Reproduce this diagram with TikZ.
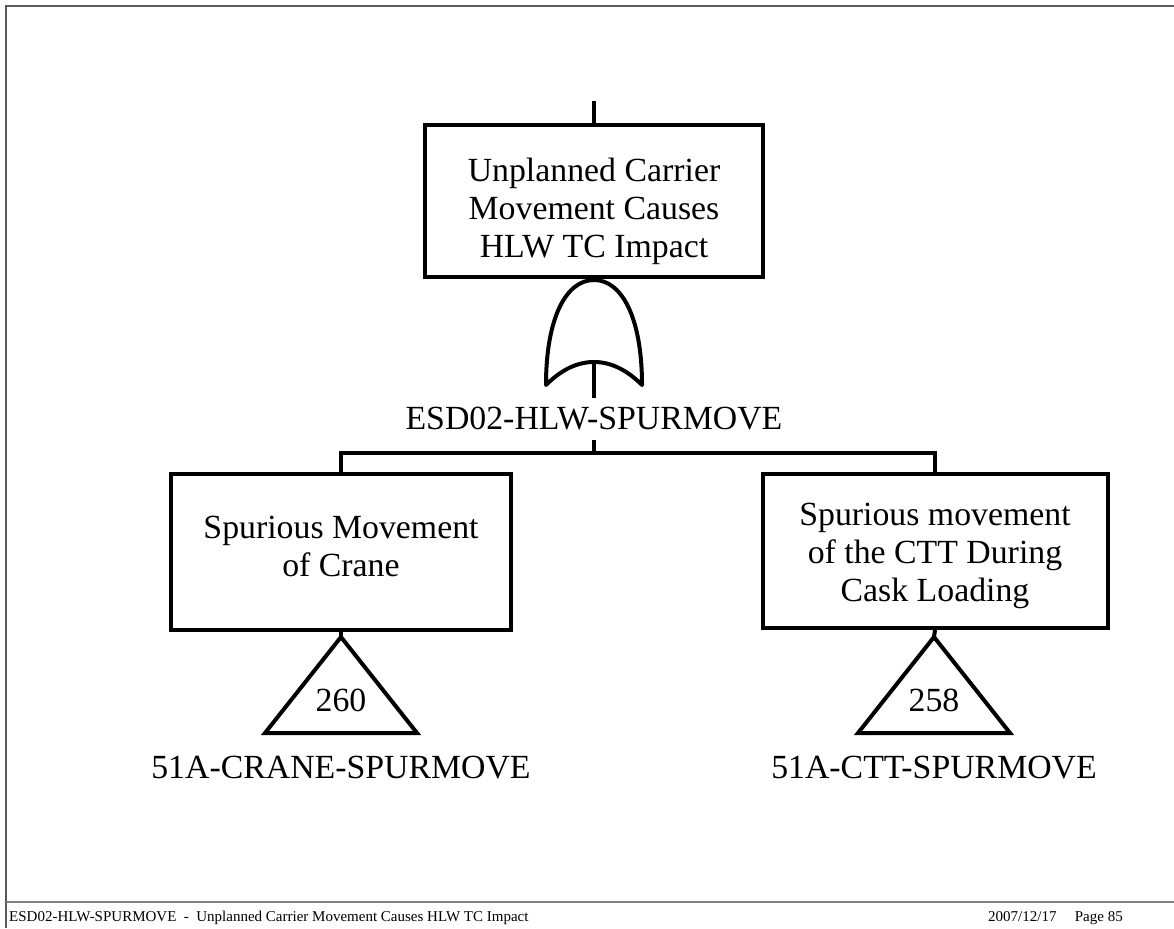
\documentclass[tikz,border=0pt]{standalone}
\usepackage{fontspec}
\setmainfont{Liberation Serif}
\begin{document}
\begin{tikzpicture}[x=1pt,y=-1pt,
  line/.style={line width=4pt, line join=miter},
  evbox/.style={draw, line width=4pt, inner sep=0pt, minimum height=#1},
  bigtxt/.style={font=\fontsize{33.8}{38}\selectfont, align=center, inner sep=0pt},
  foot/.style={font=\fontsize{15}{17}\selectfont, inner sep=0pt},
  frame/.style={draw=black!65, line width=1.5pt}
]
\useasboundingbox (0,0) rectangle (1174,928);
% page frame
\draw[frame] (6,928) -- (6,6) -- (1174,6);
\draw[frame, draw=black!50] (6,902) -- (1174,902);
% footer
\node[foot, anchor=base west] (fl) at (9,921) {ESD02-HLW-SPURMOVE\ \ -\ \ Unplanned Carrier Movement Causes HLW TC Impact};
\node[foot, anchor=base west] (fd) at (988,921) {2007/12/17};
\node[foot, anchor=base east] (fp) at (1123,921) {Page 85};

% top event
\coordinate (topin) at (594,101);
\node[evbox=152pt, minimum width=338pt] (top) at (594,201) {};
\node[bigtxt] (toptxt) at (594,211) {Unplanned Carrier\\Movement Causes\\HLW TC Impact};
\draw[line] (topin) -- (top.north);

% OR gate
\coordinate (gl) at (546,385);
\coordinate (gr) at (642,385);
\coordinate (gapex) at (594,280);
\coordinate (gin) at (594,362);
\draw[line, line join=round] (gl) .. controls (546,318) and (566,280) .. (gapex)
  .. controls (622,280) and (642,318) .. (gr)
  .. controls (626,369) and (610,362) .. (gin)
  .. controls (578,362) and (562,369) .. (gl) -- cycle;
\node[bigtxt, minimum height=42pt] (glabel) at (594,419) {ESD02-HLW-SPURMOVE};
\draw[line] (gin) -- (glabel.north);
\coordinate (bar) at (594,453);
\draw[line] (glabel.south) -- (bar);

% children
\node[evbox=156pt, minimum width=340pt] (c1) at (341,552) {};
\node[bigtxt] (c1txt) at (341,546) {Spurious Movement\\of Crane};
\node[evbox=154pt, minimum width=345pt] (c2) at (935,551) {};
\node[bigtxt] (c2txt) at (935,556) {Spurious movement\\of the CTT During\\Cask Loading};
\draw[line] (bar) -| (c1.north);
\draw[line] (bar) -| (c2.north);

% transfer triangles
\coordinate (t1a) at (341,637);
\draw[line] (c1.south) -- (t1a);
\draw[line] (t1a) -- (265,733) -- (417,733) -- cycle;
\node[bigtxt] (t1n) at (341,700) {260};
\node[bigtxt] (t1l) at (341,768) {51A-CRANE-SPURMOVE};

\coordinate (t2a) at (934,637);
\draw[line] (c2.south) -- (t2a);
\draw[line] (t2a) -- (858,733) -- (1010,733) -- cycle;
\node[bigtxt] (t2n) at (934,700) {258};
\node[bigtxt] (t2l) at (934,768) {51A-CTT-SPURMOVE};
\end{tikzpicture}
\end{document}
